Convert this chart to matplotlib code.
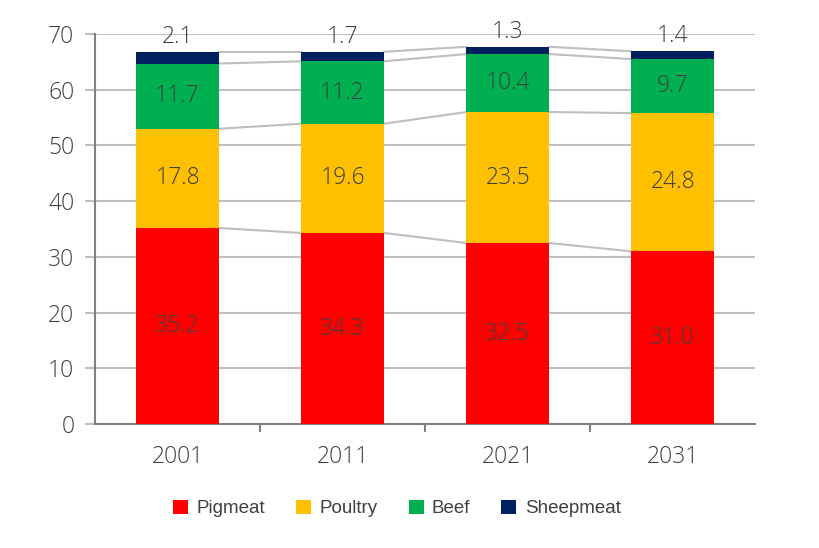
import matplotlib
matplotlib.use("Agg")
import matplotlib.pyplot as plt
import numpy as np

years = ["2001", "2011", "2021", "2031"]
pigmeat = [35.2, 34.3, 32.5, 31.0]
poultry = [17.8, 19.6, 23.5, 24.8]
beef = [11.7, 11.2, 10.4, 9.7]
sheepmeat = [2.1, 1.7, 1.3, 1.4]
series_names = ["Pigmeat", "Poultry", "Beef", "Sheepmeat"]
colors = ["#FF0000", "#FFC000", "#00B050", "#002060"]

series = [pigmeat, poultry, beef, sheepmeat]

fig = plt.figure(figsize=(8.2, 5.48), dpi=100)
ax = fig.add_axes([0.116, 0.226, 0.805, 0.712])

x = np.arange(len(years))
width = 0.5
bottom = np.zeros(len(years))
tick_font = dict(family=["Open Sans", "DejaVu Sans"], weight="light")
handles = []
for name, vals, col in zip(series_names, series, colors):
    vals = np.array(vals)
    b = ax.bar(x, vals, width, bottom=bottom, color=col, zorder=3, label=name)
    handles.append(b)
    for xi, v, bt in zip(x, vals, bottom):
        if name == "Sheepmeat":
            ax.annotate(f"{v:.1f}", (xi, bt + v), xytext=(0, 2), textcoords="offset points",
                        ha="center", va="bottom", fontsize=16.5, color="#404040", zorder=5, **tick_font)
        else:
            ax.text(xi, bt + v / 2, f"{v:.1f}", ha="center", va="center",
                    fontsize=16.5, color="#404040", zorder=5, **tick_font)
    bottom = bottom + vals
    # connector lines between bars
    for i in range(len(years) - 1):
        ax.plot([x[i] + width / 2, x[i + 1] - width / 2], [bottom[i], bottom[i + 1]],
                color="#BFBFBF", lw=1.5, zorder=2)

ax.set_xlim(-0.5, 3.5)
ax.set_ylim(0, 70)
ax.set_yticks(range(0, 71, 10))
ax.set_xticks(x)
ax.set_xticklabels(years)
ax.set_xticks(np.arange(0.5, 3, 1), minor=True)
ax.tick_params(axis="x", which="major", length=0, pad=15, labelsize=16.5, labelcolor="#404040")
ax.tick_params(axis="x", which="minor", length=6, width=1.5, color="#808080", direction="out")
ax.tick_params(axis="y", length=7, width=1.5, color="#BFBFBF", labelsize=16.5, labelcolor="#404040", pad=8)
for lab in ax.get_xticklabels() + ax.get_yticklabels():
    lab.set_fontfamily(["Open Sans", "DejaVu Sans"])
    lab.set_fontweight("light")

ax.grid(axis="y", color="#BFBFBF", lw=1.5, zorder=0)
ax.set_axisbelow(True)
for s in ["top", "right"]:
    ax.spines[s].set_visible(False)
ax.spines["left"].set_color("#808080")
ax.spines["left"].set_linewidth(1.5)
ax.spines["bottom"].set_color("#808080")
ax.spines["bottom"].set_linewidth(1.5)

leg = fig.legend(handles=handles, labels=series_names, loc="center", bbox_to_anchor=(0.484, 0.072),
                 ncol=4, frameon=False, handlelength=0.8, handleheight=0.8,
                 columnspacing=1.65, handletextpad=0.45,
                 prop={"family": ["Liberation Sans", "DejaVu Sans"], "size": 13.5})
for t in leg.get_texts():
    t.set_color("#404040")

fig.savefig("out.png", dpi=100)
